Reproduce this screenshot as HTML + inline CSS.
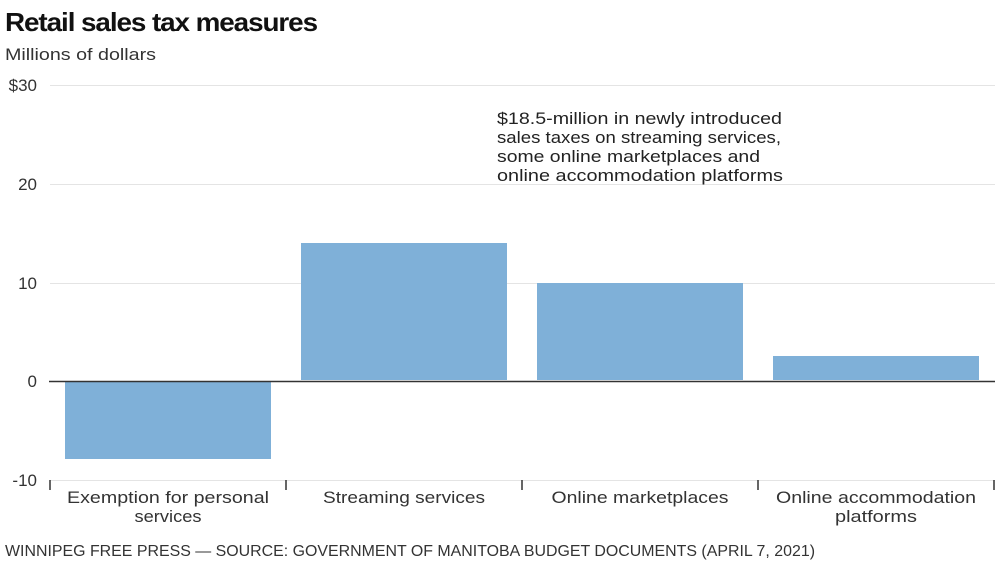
<!DOCTYPE html>
<html><head><style>
body{margin:0;background:#fff;width:999px;height:561px;overflow:hidden}
svg{display:block;font-family:"Liberation Sans",sans-serif}
text{}
</style></head><body>
<svg width="999" height="561" viewBox="0 0 999 561">
<text x="5" y="31" font-size="26" font-weight="bold" fill="#111" letter-spacing="-1" textLength="312" lengthAdjust="spacingAndGlyphs">Retail sales tax measures</text>
<text x="5" y="60" font-size="17" fill="#333" textLength="151" lengthAdjust="spacingAndGlyphs">Millions of dollars</text>
<g stroke="#e4e4e4" stroke-width="1">
<line x1="50" y1="85.5" x2="995" y2="85.5"/>
<line x1="50" y1="184.5" x2="995" y2="184.5"/>
<line x1="50" y1="283.5" x2="995" y2="283.5"/>
<line x1="50" y1="480.5" x2="995" y2="480.5"/>
</g>
<g font-size="17" fill="#333" text-anchor="end">
<text x="37" y="91">$30</text>
<text x="37" y="190">20</text>
<text x="37" y="289">10</text>
<text x="37" y="387">0</text>
<text x="37" y="486">-10</text>
</g>
<g fill="#7fb0d8">
<rect x="65" y="382" width="206" height="77"/>
<rect x="301" y="243" width="206" height="137"/>
<rect x="537" y="283" width="206" height="97"/>
<rect x="773" y="356" width="206" height="24"/>
</g>
<line x1="49" y1="381.5" x2="995" y2="381.5" stroke="#333" stroke-width="1.5"/>
<g stroke="#333" stroke-width="1.5">
<line x1="50" y1="480" x2="50" y2="490"/>
<line x1="286" y1="480" x2="286" y2="490"/>
<line x1="522" y1="480" x2="522" y2="490"/>
<line x1="758" y1="480" x2="758" y2="490"/>
<line x1="994" y1="480" x2="994" y2="490"/>
</g>
<g font-size="17" fill="#333" text-anchor="middle">
<text x="168" y="503" textLength="202" lengthAdjust="spacingAndGlyphs">Exemption for personal</text>
<text x="168" y="522" textLength="67" lengthAdjust="spacingAndGlyphs">services</text>
<text x="404" y="503" textLength="162" lengthAdjust="spacingAndGlyphs">Streaming services</text>
<text x="640" y="503" textLength="177" lengthAdjust="spacingAndGlyphs">Online marketplaces</text>
<text x="876" y="503" textLength="200" lengthAdjust="spacingAndGlyphs">Online accommodation</text>
<text x="876" y="522" textLength="82" lengthAdjust="spacingAndGlyphs">platforms</text>
</g>
<g font-size="16.5" fill="#222">
<text x="497" y="124" textLength="285" lengthAdjust="spacingAndGlyphs">$18.5-million in newly introduced</text>
<text x="497" y="143" textLength="284" lengthAdjust="spacingAndGlyphs">sales taxes on streaming services,</text>
<text x="497" y="162" textLength="263" lengthAdjust="spacingAndGlyphs">some online marketplaces and</text>
<text x="497" y="181" textLength="286" lengthAdjust="spacingAndGlyphs">online accommodation platforms</text>
</g>
<text x="5" y="556" font-size="15.5" fill="#333" textLength="810" lengthAdjust="spacingAndGlyphs">WINNIPEG FREE PRESS — SOURCE: GOVERNMENT OF MANITOBA BUDGET DOCUMENTS (APRIL 7, 2021)</text>
</svg>
</body></html>
